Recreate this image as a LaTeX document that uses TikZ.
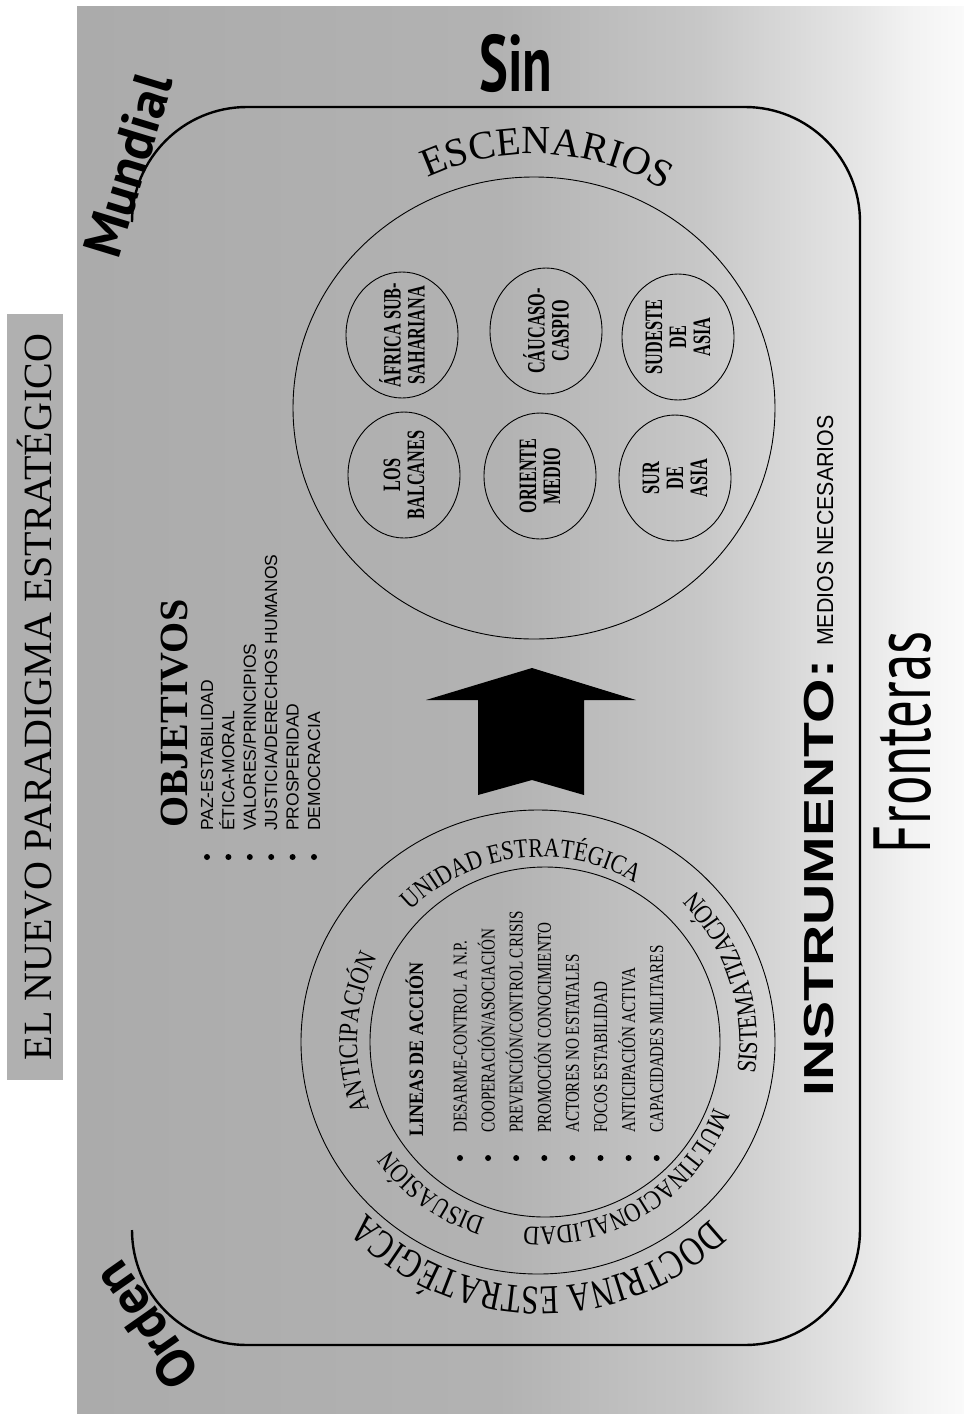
\documentclass[tikz,border=0pt]{standalone}
\usepackage{fontspec}
\setmainfont{Liberation Serif}
\newfontfamily\scnfamily[FakeStretch=0.65]{Liberation Serif}
\newfontfamily\lstfamily[FakeStretch=0.77]{Liberation Serif}
\newfontfamily\hdrfamily[FakeStretch=0.88]{Liberation Serif}
\newfontfamily\rngfamily[FakeStretch=0.82]{Liberation Serif}
\newfontfamily\docfamily[FakeStretch=0.76]{Liberation Serif}
\newfontfamily\arialfamily{Liberation Sans}
\newfontfamily\instrfamily[FakeStretch=1.36]{Liberation Sans}
\newfontfamily\medfamily[FakeStretch=0.93]{Liberation Sans}
\newfontfamily\ptfamily{PT Sans}
\newfontfamily\ptcfamily[FakeStretch=0.68]{PT Sans}
\usetikzlibrary{decorations.text,calc}
\newcommand\fsz[1]{\fontsize{#1}{#1}\selectfont}
\newcommand\ringfont{\rngfamily\fontsize{27}{27}\selectfont}
\newcommand\docfont{\docfamily\fontsize{41}{41}\selectfont}
\newcommand\escfont{\fontsize{40}{40}\selectfont}
\pgfdeclarehorizontalshading{bgshade}{100bp}{color(0bp)=(black!33); color(25bp)=(black!33); color(49bp)=(black!30); color(60bp)=(black!22); color(69bp)=(black!10); color(72bp)=(black!5); color(75bp)=(black!2); color(100bp)=(black!2)}
\definecolor{titlegray}{gray}{0.69}

\begin{document}
\begin{tikzpicture}[x=1pt,y=1pt,
  frame/.style={line width=2.4pt},
  ringline/.style={line width=0.9pt},
  scnlabel/.style={rotate=90, inner sep=0pt, align=center, font=\scnfamily\bfseries\fontsize{25}{24}\selectfont},
  objitem/.style={rotate=90, anchor=base west, inner sep=0pt, font=\arialfamily\fsz{17.5}},
  linitem/.style={rotate=90, anchor=base west, inner sep=0pt, font=\lstfamily\fsz{19.6}},
  curvetext/.style={decorate, decoration={text along path, text align=center, text={#1}}}
]
\useasboundingbox (0,0) rectangle (964,-1414);
% background
\shade[shading=bgshade] (77,-6) rectangle (964,-1414);

% title
\node (title) [fill=titlegray, rotate=90, minimum width=766pt, minimum height=56pt, inner sep=0pt, font=\fsz{40}] at (35,-697) {EL NUEVO PARADIGMA ESTRATÉGICO};

% frame (open on the left side)
\draw[frame] (132,-222) arc[start angle=180,end angle=90,radius=115] -- (745,-107)
  arc[start angle=90,end angle=0,radius=115] -- (860,-1230)
  arc[start angle=0,end angle=-90,radius=115] -- (247,-1345)
  arc[start angle=270,end angle=180,radius=115];

\node (mun) [rotate=73, inner sep=0pt, font=\ptfamily\bfseries\fsz{54}] at (128,-165) {Mundial};
\node (ord) [rotate=125, inner sep=0pt, font=\ptfamily\bfseries\fsz{54}] at (146,-1326) {Orden};
\node (sin) [anchor=base, inner sep=0pt, font=\ptcfamily\bfseries\fsz{80}] at (516,-91) {Sin};
\node (fro) [rotate=90, anchor=base, inner sep=0pt, font=\ptcfamily\fsz{81}] at (930,-742) {Fronteras};

% scenarios
\coordinate (S) at (534,-408);
\draw[ringline] (S) ellipse[x radius=241, y radius=231];
\path[curvetext={|\escfont|ESCENARIOS}] ($(S)+(127:254)$) arc[start angle=127,end angle=47,radius=254];

\foreach \cx/\cy in {402/335, 546/331, 678/337, 404/475, 540/476, 675/478}
  \draw[ringline] (\cx,-\cy) ellipse[x radius=56, y radius=63];
\node (afr) [scnlabel] at (402,-335) {ÁFRICA SUB-\\SAHARIANA};
\node (cau) [scnlabel] at (546,-331) {CÁUCASO-\\CASPIO};
\node (sud) [scnlabel] at (678,-337) {SUDESTE\\DE\\ASIA};
\node (bal) [scnlabel] at (404,-475) {LOS\\BALCANES};
\node (ori) [scnlabel] at (540,-476) {ORIENTE\\MEDIO};
\node (sur) [scnlabel] at (675,-478) {SUR\\DE\\ASIA};

% arrow
\fill (532,-668) -- (636,-700) -- (584,-700) -- (584,-795) -- (532,-780)
  -- (478,-795) -- (478,-700) -- (426,-700) -- cycle;

% doctrine circles
\coordinate (D) at (541,-1042);
\draw[ringline] (538,-1042) ellipse[x radius=237, y radius=232];
\draw[ringline] (545,-1042) circle[radius=175];

\path[curvetext={|\ringfont|ANTICIPACIÓN}] ($(D)+(217:184)$) arc[start angle=217,end angle=137,radius=184];
\path[curvetext={|\ringfont|UNIDAD ESTRATÉGICA}] ($(D)+(147:185)$) arc[start angle=147,end angle=47,radius=185];
\path[curvetext={|\ringfont|MULTINACIONALIDAD}] ($(D)+(-8:185)$) arc[start angle=-8,end angle=-108,radius=185];
\path[curvetext={|\ringfont|DISUASIÓN}] ($(D)+(264:185)$) arc[start angle=264,end angle=204,radius=185];
\path[curvetext={|\ringfont|SISTEMATIZACIÓN}] ($(D)+(-22:216)$) arc[start angle=-22,end angle=58,radius=216];
\path[curvetext={|\docfont|DOCTRINA ESTRATÉGICA}] ($(D)+(-25:245)$) arc[start angle=-25,end angle=-157,radius=245];

% lineas de accion
\node (linhdr) [rotate=90, anchor=base west, inner sep=0pt, font=\hdrfamily\bfseries\fsz{20.5}] at (423,-1137) {LINEAS DE ACCIÓN};
\foreach \t [count=\i from 0] in {DESARME-CONTROL A N.P., COOPERACIÓN/ASOCIACIÓN, PREVENCIÓN/CONTROL CRISIS, PROMOCIÓN CONOCIMIENTO, ACTORES NO ESTATALES, FOCOS ESTABILIDAD, ANTICIPACIÓN ACTIVA, CAPACIDADES MILITARES}{
  \node (lin\i) [linitem] at ({466.5+28.1*\i},-1133) {\t};
  \fill ({460+28.1*\i},-1158) circle[radius=3];
}

% objetivos
\node (objhdr) [rotate=90, anchor=base west, inner sep=0pt, font=\bfseries\fsz{40}] at (187,-828) {OBJETIVOS};
\foreach \t [count=\i from 0] in {PAZ-ESTABILIDAD, ÉTICA-MORAL, VALORES/PRINCIPIOS, JUSTICIA/DERECHOS HUMANOS, PROSPERIDAD, DEMOCRACIA}{
  \node (obj\i) [objitem] at ({213+21.4*\i},-831) {\t};
  \fill ({207+21.4*\i},-857) circle[radius=3];
}

% instrumento
\node (instr) [rotate=90, anchor=base west, inner sep=0pt] at (833,-1097) {\instrfamily\bfseries\fsz{42}INSTRUMENTO:\hspace{14pt}\medfamily\mdseries\fsz{23}MEDIOS NECESARIOS};
\end{tikzpicture}
\end{document}
